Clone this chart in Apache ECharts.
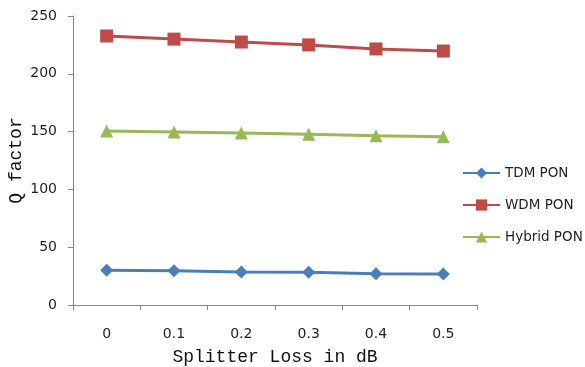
<!DOCTYPE html>
<html>
<head>
<meta charset="utf-8">
<script src="https://cdn.jsdelivr.net/npm/echarts@6/dist/echarts.min.js"></script>
<style>
  html, body { margin: 0; padding: 0; background: #fff; }
  #chart { width: 585px; height: 367px; }
</style>
</head>
<body>
<div id="chart"></div>
<script>
// Splitter loss (dB) on the x axis
const splitterLoss = ['0', '0.1', '0.2', '0.3', '0.4', '0.5'];
// Q factor per architecture
const tdmPon = [30, 29.7, 28.5, 28.3, 27.1, 26.8];
const wdmPon = [232.7, 230, 227.5, 225, 221.5, 219.7];
const hybridPon = [150.5, 149.6, 148.8, 147.7, 146.5, 145.6];
const yTicks = { min: 0, max: 250, interval: 50 };

const chart = echarts.init(document.getElementById('chart'));
const tickFont = { fontFamily: 'DejaVu Sans', fontSize: 14, color: '#1e1e2a' };
const titleFont = { fontFamily: 'Liberation Mono', fontSize: 18, color: '#111' };

function line(name, data, color, symbol, size) {
  return {
    name, type: 'line', data, symbol, symbolSize: size,
    lineStyle: { color, width: 3 },
    itemStyle: { color },
    animation: false
  };
}

chart.setOption({
  backgroundColor: '#fff',
  grid: {
    left: 73, right: 108, top: 16, bottom: 62,
    containLabel: false, outerBoundsMode: 'none'
  },
  legend: {
    orient: 'vertical', left: 457, top: 161, itemGap: 18,
    itemWidth: 37, itemHeight: 14,
    textStyle: { fontFamily: 'DejaVu Sans', fontSize: 13.5, color: '#1e1e2a', lineHeight: 14 },
    data: ['TDM PON', 'WDM PON', 'Hybrid PON']
  },
  xAxis: {
    type: 'category', data: splitterLoss, boundaryGap: true,
    name: 'Splitter Loss in dB', nameLocation: 'middle', nameGap: 43,
    nameMoveOverlap: false,
    nameTextStyle: titleFont,
    axisLine: { lineStyle: { color: '#888', width: 1 } },
    axisTick: { show: true, length: 5, lineStyle: { color: '#888' } },
    axisLabel: Object.assign({ margin: 22 }, tickFont),
    splitLine: { show: false }
  },
  yAxis: {
    type: 'value', min: yTicks.min, max: yTicks.max, interval: yTicks.interval,
    name: 'Q factor', nameLocation: 'middle', nameGap: 48,
    nameMoveOverlap: false,
    nameTextStyle: titleFont,
    axisLine: { show: true, lineStyle: { color: '#888', width: 1 } },
    axisTick: { show: true, length: 5, lineStyle: { color: '#888' } },
    axisLabel: Object.assign({ margin: 16 }, tickFont),
    splitLine: { show: false }
  },
  series: [
    line('TDM PON', tdmPon, '#4A7EBB', 'diamond', 13),
    line('WDM PON', wdmPon, '#BE4B48', 'rect', 13),
    line('Hybrid PON', hybridPon, '#98B954', 'triangle', 13)
  ]
});
</script>
</body>
</html>
